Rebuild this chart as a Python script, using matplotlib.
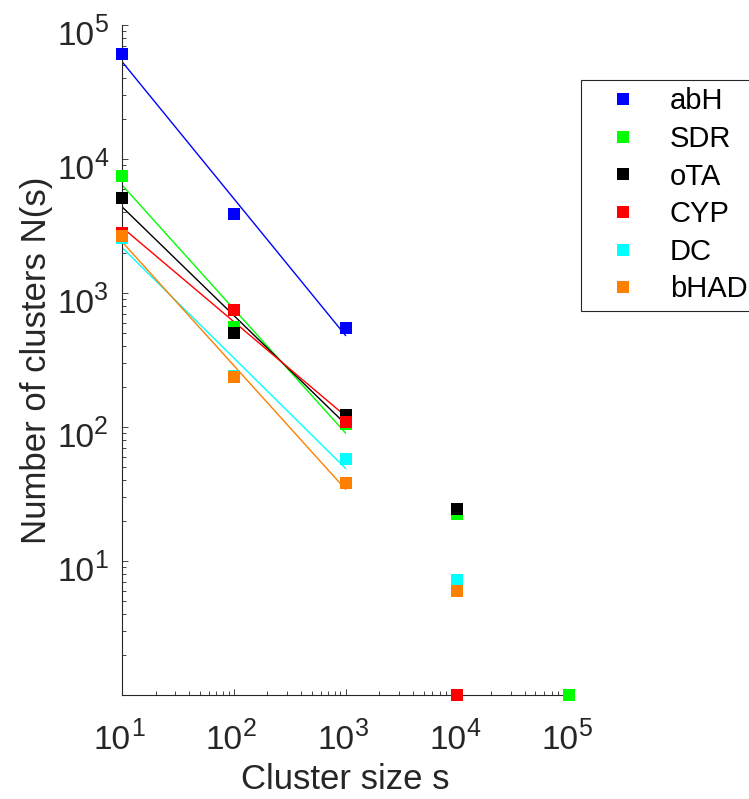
import numpy as np
import matplotlib
matplotlib.use("Agg")
import matplotlib.pyplot as plt
from matplotlib.ticker import LogLocator, NullFormatter

plt.rcParams['font.family'] = ['Liberation Sans', 'DejaVu Sans']

sizes = [10, 100, 1000, 10000, 100000]
series_names = ["abH", "SDR", "oTA", "CYP", "DC", "bHAD"]
abH = [61000, 3870, 552, np.nan, np.nan]
SDR = [7460, 561, 105, 22.5, 1]
oTA = [5100, 506, 122, 24.5, np.nan]
CYP = [2790, 751, 109, 1, np.nan]
DC = [2560, 239, 57.6, 7.2, np.nan]
bHAD = [2673, 235, 38, 6.0, np.nan]
series_values = [abH, SDR, oTA, CYP, DC, bHAD]
colors = [(0, 0, 1), (0, 1, 0), (0, 0, 0), (1, 0, 0), (0, 1, 1), (1, 0.5, 0)]
tick_exponents = [1, 2, 3, 4, 5]
n_fit = 3

W, H = 749, 799
fig = plt.figure(figsize=(W / 100, H / 100), dpi=100)
ax = fig.add_axes([122 / W, 1 - 695 / H, (569 - 122) / W, (695 - 25) / H])

gray = (0.15, 0.15, 0.15)
x = np.array(sizes, dtype=float)
handles = []
for name, vals, c in zip(series_names, series_values, colors):
    y = np.array(vals, dtype=float)
    p = np.polyfit(np.log10(x[:n_fit]), np.log10(y[:n_fit]), 1)
    fx = np.array([x[0], x[n_fit - 1]])
    fy = 10 ** np.polyval(p, np.log10(fx))
    ax.plot(fx, fy, '-', color=c, lw=1.0, zorder=2)
for name, vals, c in zip(series_names, series_values, colors):
    h, = ax.plot(x, vals, 's', color=c, ms=8, mew=0, ls='none', zorder=3,
                 clip_on=False, label=name)
    handles.append(h)

ax.set_xscale('log')
ax.set_yscale('log')
ax.set_xlim(10, 1e5)
ax.set_ylim(1, 1e5)
tick_vals = [10.0 ** e for e in tick_exponents]
ax.set_xticks(tick_vals)
ax.set_yticks(tick_vals)
ax.xaxis.set_minor_locator(LogLocator(base=10, subs=np.arange(2, 10), numticks=20))
ax.yaxis.set_minor_locator(LogLocator(base=10, subs=np.arange(2, 10), numticks=20))
ax.xaxis.set_minor_formatter(NullFormatter())
ax.yaxis.set_minor_formatter(NullFormatter())

for s in ['top', 'right']:
    ax.spines[s].set_visible(False)
for s in ['left', 'bottom']:
    ax.spines[s].set_color(gray)
    ax.spines[s].set_linewidth(0.8)

ax.tick_params(which='both', direction='in', colors=gray, width=0.6,
               labelbottom=False, labelleft=False)
ax.tick_params(which='major', length=4.5)
ax.tick_params(which='minor', length=3)

# MATLAB-style tick labels: "10" with a large exponent
base_fs, exp_fs, raise_px = 24, 18, 13
for e, v in zip(tick_exponents, tick_vals):
    ax.annotate("10", xy=(v, 0), xycoords=ax.get_xaxis_transform(),
                xytext=(9, -54), textcoords='offset pixels', ha='right',
                va='baseline', fontsize=base_fs, color=gray, annotation_clip=False)
    ax.annotate(str(e), xy=(v, 0), xycoords=ax.get_xaxis_transform(),
                xytext=(9, -54 + raise_px), textcoords='offset pixels', ha='left',
                va='baseline', fontsize=exp_fs, color=gray, annotation_clip=False)
    ax.annotate("10", xy=(0, v), xycoords=ax.get_yaxis_transform(),
                xytext=(-28, -20), textcoords='offset pixels', ha='right',
                va='baseline', fontsize=base_fs, color=gray, annotation_clip=False)
    ax.annotate(str(e), xy=(0, v), xycoords=ax.get_yaxis_transform(),
                xytext=(-28, -20 + raise_px), textcoords='offset pixels', ha='left',
                va='baseline', fontsize=exp_fs, color=gray, annotation_clip=False)

ax.set_xlabel("Cluster size s", fontsize=25, color=gray)
ax.set_ylabel("Number of clusters N(s)", fontsize=25, color=gray)
ax.xaxis.set_label_coords(0.5, (695 - 763) / 670)
ax.yaxis.set_label_coords((53 - 122) / 447, 0.5)

leg = fig.legend(handles=handles, loc='upper left',
                 bbox_to_anchor=(581 / W, 1 - 80 / H), bbox_transform=fig.transFigure,
                 fontsize=21, frameon=True, fancybox=False, framealpha=1,
                 edgecolor=gray, borderaxespad=0, handlelength=2.4,
                 handletextpad=0.4, labelspacing=0.33, borderpad=0.25, numpoints=1)
leg.get_frame().set_linewidth(0.8)

fig.savefig("out.png", dpi=100)
